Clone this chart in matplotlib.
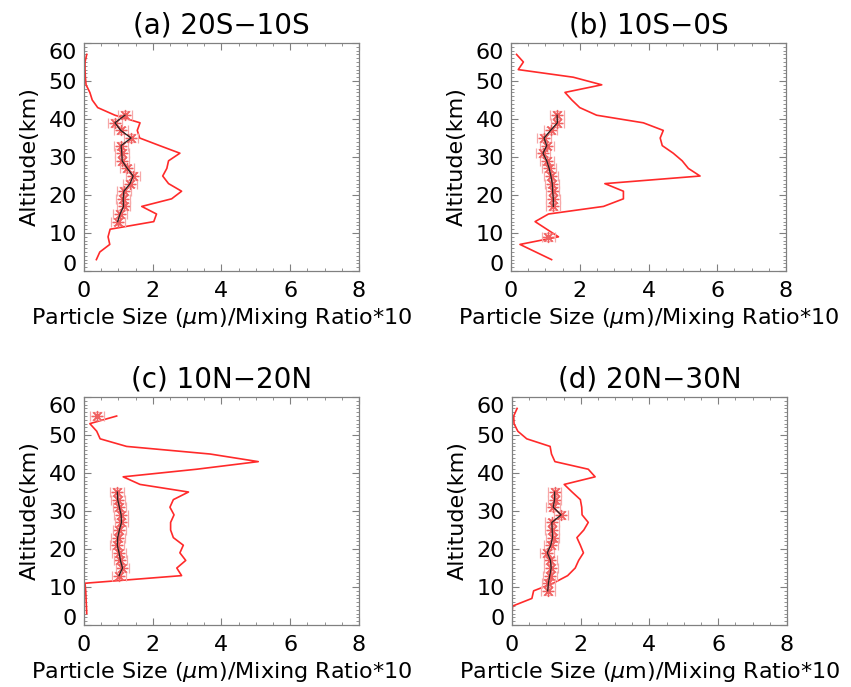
import matplotlib
matplotlib.use('Agg')
import matplotlib.pyplot as plt
import numpy as np
from matplotlib.ticker import MultipleLocator

nan = np.nan

titles = ['(a) 20S\u221210S', '(b) 10S\u22120S', '(c) 10N\u221220N', '(d) 20N\u221230N']

# mixing ratio*10 profiles (red lines)
alt_mix_a = [3, 5, 7, 9, 11, 13, 15, 17, 19, 21, 23, 25, 27, 29, 31, 33, 35, 37, 39, 41,
             43, 45, 47, 49, 51, 53, 55, 57]
mix_a = [0.36, 0.46, 0.75, 0.70, 0.76, 2.03, 2.11, 1.68, 2.55, 2.84, 2.46, 2.29, 2.41, 2.46,
         2.79, 2.20, 1.62, 1.55, 1.63, 0.90, 0.40, 0.24, 0.17, 0.06, 0.04, 0.03, 0.03, 0.08]

alt_mix_b = [3, 5, 7, 9, 11, 13, 15, 17, 19, 21, 23, 25, 27, 29, 31, 33, 35, 37, 39, 41,
             43, 45, 47, 49, 51, 53, 55, 57]
mix_b = [1.18, 0.72, 0.26, 1.38, 1.04, 0.70, 1.09, 2.69, 3.27, 3.27, 2.73, 5.50, 5.16, 4.98,
         4.72, 4.40, 4.34, 4.43, 3.85, 2.49, 2.00, 1.77, 1.57, 2.64, 1.81, 0.21, 0.36, 0.16]

alt_mix_c = [3, 5, 7, 9, 11, 13, 15, 17, 19, 21, 23, 25, 27, 29, 31, 33, 35, 37, 39, 41,
             43, 45, 47, 49, 51, 53, 55]
mix_c = [0.08, 0.07, 0.06, 0.05, 0.03, 2.84, 2.70, 2.96, 2.79, 2.89, 2.60, 2.52, 2.52, 2.62,
         2.50, 2.60, 3.04, 1.63, 1.14, 3.28, 5.07, 3.67, 1.24, 0.47, 0.37, 0.17, 0.95]

alt_mix_d = [3, 5, 7, 9, 11, 13, 15, 17, 19, 21, 23, 25, 27, 29, 31, 33, 35, 37, 39, 41,
             43, 45, 47, 49, 51, 53, 55, 57]
mix_d = [0.00, 0.02, 0.58, 0.63, 1.20, 1.62, 1.84, 1.94, 2.08, 1.99, 1.89, 2.09, 2.22, 2.04,
         2.03, 1.99, 1.75, 1.52, 2.42, 2.22, 1.25, 1.15, 1.11, 0.43, 0.17, 0.06, 0.05, 0.15]

# particle size profiles (black lines with error bars)
alt_size_a = [13, 15, 17, 19, 21, 23, 25, 27, 29, 31, 33, 35, 37, 39, 41]
size_a = [0.98, 1.05, 1.15, 1.14, 1.16, 1.34, 1.43, 1.26, 1.11, 1.10, 1.08, 1.37, 1.07, 0.90, 1.19]

alt_size_b = [9, 11, 13, 15, 17, 19, 21, 23, 25, 27, 29, 31, 33, 35, 37, 39, 41]
size_b = [1.09, nan, nan, nan, 1.23, 1.23, 1.21, 1.20, 1.16, 1.11, 1.04, 0.93, 1.04, 0.96,
          1.15, 1.35, 1.34]

alt_size_c = [13, 15, 17, 19, 21, 23, 25, 27, 29, 31, 33, 35, 37, 39, 41, 43, 45, 47, 49,
              51, 53, 55]
size_c = [1.02, 1.12, 1.06, 1.02, 0.97, 0.98, 1.03, 1.09, 1.08, 1.03, 0.98, 0.97,
          nan, nan, nan, nan, nan, nan, nan, nan, nan, 0.37]

alt_size_d = [9, 11, 13, 15, 17, 19, 21, 23, 25, 27, 29, 31, 33, 35]
size_d = [1.04, 1.06, 1.10, 1.14, 1.12, 1.03, 1.13, 1.18, 1.17, 1.16, 1.43, 1.20, 1.24, 1.24]

size_err_x = 0.2
size_err_y = 1.0

xticks = [0, 2, 4, 6, 8]
yticks = [0, 10, 20, 30, 40, 50, 60]

panels = [
    (alt_mix_a, mix_a, alt_size_a, size_a),
    (alt_mix_b, mix_b, alt_size_b, size_b),
    (alt_mix_c, mix_c, alt_size_c, size_c),
    (alt_mix_d, mix_d, alt_size_d, size_d),
]

positions = [
    [0.0987, 0.6055, 0.3231, 0.3319],
    [0.6005, 0.6055, 0.3231, 0.3319],
    [0.0987, 0.0902, 0.3231, 0.3319],
    [0.6016, 0.0902, 0.3231, 0.3319],
]

plt.rcParams['font.family'] = 'DejaVu Sans'

fig = plt.figure(figsize=(8.51, 6.87), dpi=100)

for i in range(4):
    am, mx, asz, sz = panels[i]
    ax = fig.add_axes(positions[i])
    ax.plot(mx, am, color='#ff2a2a', lw=1.2, zorder=2)
    ax.errorbar(sz, asz, xerr=size_err_x, yerr=size_err_y, fmt='none',
                ecolor='#f7a8a8', elinewidth=0.9, capsize=3.5, capthick=0.9, zorder=3)
    ax.plot(sz, asz, ls='none', marker=(8, 2, 0), ms=8, mec='#f06060', mew=0.9, zorder=4)
    ax.plot(sz, asz, color='#222222', lw=0.9, zorder=5)

    ax.set_xlim(0, 8)
    ax.set_ylim(0, 60)
    ax.set_xticks(xticks)
    ax.set_yticks(yticks)
    ax.xaxis.set_minor_locator(MultipleLocator(0.5))
    ax.yaxis.set_minor_locator(MultipleLocator(1))
    ax.tick_params(which='both', direction='in', top=True, right=True,
                   color='#808080', labelsize=16)
    ax.tick_params(which='major', length=5, width=0.8)
    ax.tick_params(which='minor', length=2.5, width=0.6)
    ax.tick_params(axis='x', which='major', pad=7)
    ax.tick_params(axis='y', which='major', pad=5)
    for sp in ax.spines.values():
        sp.set_color('#808080')
        sp.set_linewidth(0.9)

    ax.set_title(titles[i], fontsize=20, pad=7)
    ax.set_xlabel(r'Particle Size ($\mu$m)/Mixing Ratio*10', fontsize=16, labelpad=4)
    ax.set_ylabel('Altitude(km)', fontsize=16, labelpad=6)

    # the end labels sit inside the frame, as in the original
    ticks = ax.yaxis.get_major_ticks()
    ticks[0].label1.set_va('baseline')
    ticks[-1].label1.set_va('top')

fig.savefig('out.png', dpi=100)
